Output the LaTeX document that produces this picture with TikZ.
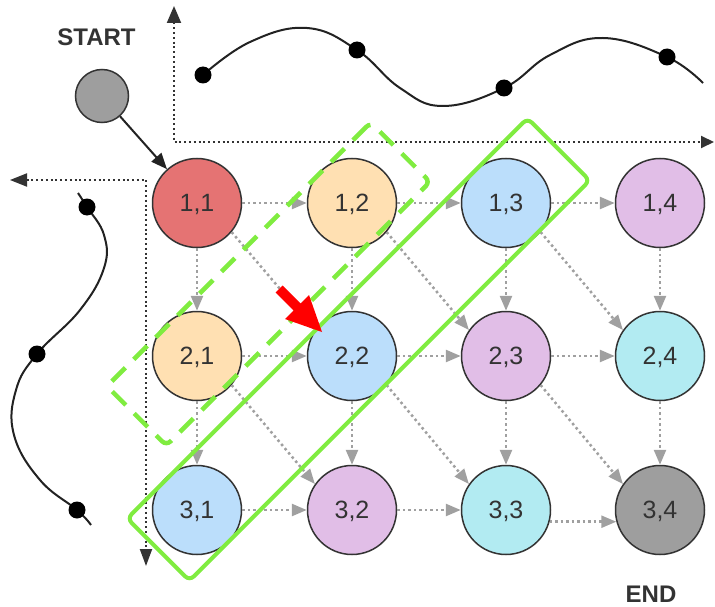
\documentclass[tikz,border=0pt]{standalone}
\usepackage{fontspec}
\setmainfont{Liberation Sans}
\usetikzlibrary{arrows.meta}
\definecolor{txt}{HTML}{333333}
\definecolor{ink}{HTML}{222222}
\definecolor{cred}{HTML}{E57373}
\definecolor{cpeach}{HTML}{FFE0B2}
\definecolor{cblue}{HTML}{BBDEFB}
\definecolor{cpurple}{HTML}{E1BEE7}
\definecolor{ccyan}{HTML}{B2EBF2}
\definecolor{cgray}{HTML}{9E9E9E}
\definecolor{edgegray}{HTML}{A0A0A0}
\definecolor{cgreen}{HTML}{80EC40}
\definecolor{cred2}{HTML}{FF0000}
\begin{document}
\begin{tikzpicture}[x=1pt,y=-1pt,
  cnode/.style={circle, draw=txt, line width=1.5pt, minimum size=89pt, inner sep=0pt,
    font=\fontsize{25}{25}\selectfont, text=txt, text depth=0pt},
  gedge/.style={draw=edgegray, line width=2.5pt, dash pattern=on 2.5pt off 3pt,
    -{Triangle[length=15pt,width=12pt,fill=edgegray]}},
  axisline/.style={draw=txt, line width=2pt, dash pattern=on 2pt off 2.8pt},
  wave/.style={draw=ink, line width=2pt},
  grp/.style={draw=cgreen, rotate=45, inner sep=0pt, rounded corners=6pt},
  lbl/.style={font=\bfseries\fontsize{24}{24}\selectfont, text=txt, inner sep=0pt}
]
\useasboundingbox (0,0) rectangle (715,607);

% axes
\coordinate (tc) at (174,142);
\coordinate (tu) at (174,6);
\coordinate (tr) at (714,142);
\coordinate (lc) at (146,180);
\coordinate (ll) at (10,180);
\coordinate (lb) at (146,566);
\draw[axisline, {Triangle[length=17pt,width=14pt]}-{Triangle[length=13pt,width=12pt]}] (tu) -- (tc) -- (tr);
\draw[axisline, {Triangle[length=17pt,width=13pt]}-{Triangle[length=17pt,width=12pt]}] (ll) -- (lc) -- (lb);

% waves
\draw[wave] plot[smooth, tension=0.7] coordinates {(203,75) (250,42) (307,28) (357,50) (400,88) (443,106) (504,88) (550,55) (603,38) (667,57) (703,83)};
\foreach \p in {(203,75),(357,50),(504,88),(667,57)} \fill[black] \p circle (8.5pt);
\draw[wave] plot[smooth, tension=0.7] coordinates {(78,193) (87,207) (104,235) (104,268) (80,310) (37,354) (16,390) (14,435) (40,480) (77,510) (91,525)};
\foreach \p in {(87,207),(37,354),(77,510)} \fill[black] \p circle (8.5pt);

% nodes
\node[cnode, minimum size=53pt, fill=cgray] (s) at (102,96) {};
\node[cnode, fill=cred]    (n11) at (197,203) {1,1};
\node[cnode, fill=cpeach]  (n12) at (352,203) {1,2};
\node[cnode, fill=cblue]   (n13) at (506,203) {1,3};
\node[cnode, fill=cpurple] (n14) at (660,203) {1,4};
\node[cnode, fill=cpeach]  (n21) at (197,356) {2,1};
\node[cnode, fill=cblue]   (n22) at (352,356) {2,2};
\node[cnode, fill=cpurple] (n23) at (506,356) {2,3};
\node[cnode, fill=ccyan]   (n24) at (660,356) {2,4};
\node[cnode, fill=cblue]   (n31) at (197,510) {3,1};
\node[cnode, fill=cpurple] (n32) at (352,510) {3,2};
\node[cnode, fill=ccyan]   (n33) at (506,510) {3,3};
\node[cnode, fill=cgray]   (n34) at (660,510) {3,4};

\node[lbl] (start) at (96.5,37.5) {START};
\node[lbl] (end) at (651,594.5) {END};

\draw[draw=ink, line width=2pt, -{Triangle[length=16pt,width=13pt]}] (s) -- (n11);

% gray edges
\foreach \a/\b in {11/12,12/13,13/14,21/22,22/23,23/24,31/32,32/33}
  \draw[gedge] (n\a.east) -- (n\b.west);
\draw[gedge] (n33.-15) -- (n34.195);
\foreach \a/\b in {11/21,12/22,13/23,14/24,21/31,22/32,23/33,24/34}
  \draw[gedge] (n\a.south) -- (n\b.north);
\foreach \a/\b in {11/22,12/23,13/24,21/32,22/33,23/34}
  \draw[gedge] (n\a.-40) -- (n\b.145);

% green groups
\node[grp, line width=4pt, minimum width=566pt, minimum height=88pt] (g1) at (358.5,349.5) {};
\node[grp, line width=4.5pt, dash pattern=on 19pt off 12pt, minimum width=373pt, minimum height=84pt] (g2) at (268.5,284) {};

% red arrow
\fill[cred2] (282.5,285.5) -- (300.5,303.5) -- (309,295) -- (322,332) -- (285,319) -- (293.5,310.5) -- (275.5,292.5) -- cycle;
\end{tikzpicture}
\end{document}
